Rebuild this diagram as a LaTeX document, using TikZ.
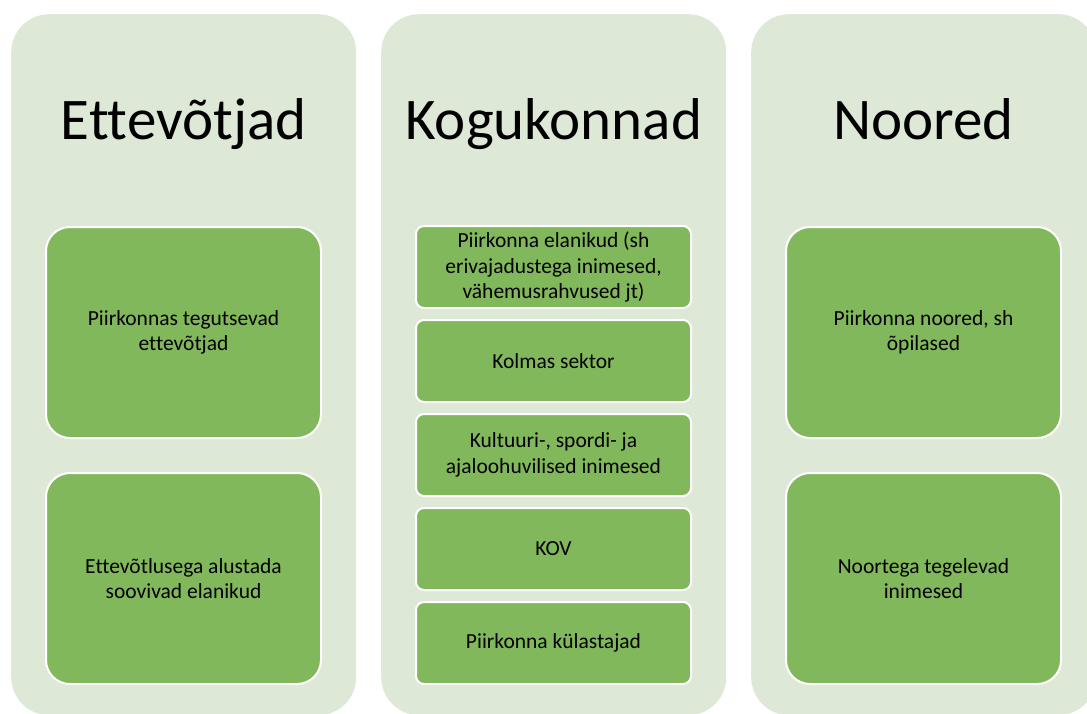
\documentclass[tikz,border=0pt]{standalone}
\usepackage{fontspec}
\setmainfont[Ligatures=NoCommon]{Carlito}
\usepackage{color}
\definecolor{colbg}{HTML}{DDE8D6}
\definecolor{boxg}{HTML}{82B85C}
\usepackage{tikz}
\usetikzlibrary{positioning}

\tikzset{
    column/.style={fill=colbg, rounded corners=38pt, minimum width=345pt,
                   minimum height=701pt, anchor=north west, inner sep=0pt},
    title/.style={font=\fontsize{59}{70}\selectfont, anchor=base},
    bigbox/.style={fill=boxg, draw=white, line width=2pt, rounded corners=24pt,
                   minimum width=275pt, minimum height=211pt, inner sep=0pt,
                   align=center, font=\fontsize{21.5}{25.5}\selectfont},
    smallbox/.style={bigbox, rounded corners=8pt, minimum height=82pt}
}

\begin{document}
\begin{tikzpicture}[x=1pt, y=-1pt]
                \clip (0,0) rectangle (1087,713);
                \node [column] (c1) at (11,14) {};
                \node [column] (c2) at (381,14) {};
                \node [column] (c3) at (751,14) {};

                \node [title] (t1) at ([yshift=-125pt]c1.north) {Ettevõtjad};
                \node [title] (t2) at ([yshift=-125pt]c2.north) {Kogukonnad};
                \node [title] (t3) at ([yshift=-125pt]c3.north) {Noored};

                \node [bigbox] (e1) at (183.5,332.5) {Piirkonnas tegutsevad\\ettevõtjad};
                \node [bigbox, below=33pt of e1] (e2) {Ettevõtlusega alustada\\soovivad elanikud};

                \node [smallbox] (k1) at (553.5,267) {Piirkonna elanikud (sh\\erivajadustega inimesed,\\vähemusrahvused jt)};
                \node [smallbox, below=10pt of k1] (k2) {Kolmas sektor};
                \node [smallbox, below=10pt of k2] (k3) {Kultuuri-, spordi- ja\\ajaloohuvilised inimesed};
                \node [smallbox, below=10pt of k3] (k4) {KOV};
                \node [smallbox, below=10pt of k4] (k5) {Piirkonna külastajad};

                \node [bigbox] (n1) at (923.5,332.5) {Piirkonna noored, sh\\õpilased};
                \node [bigbox, below=33pt of n1] (n2) {Noortega tegelevad\\inimesed};
            \end{tikzpicture}
\end{document}
